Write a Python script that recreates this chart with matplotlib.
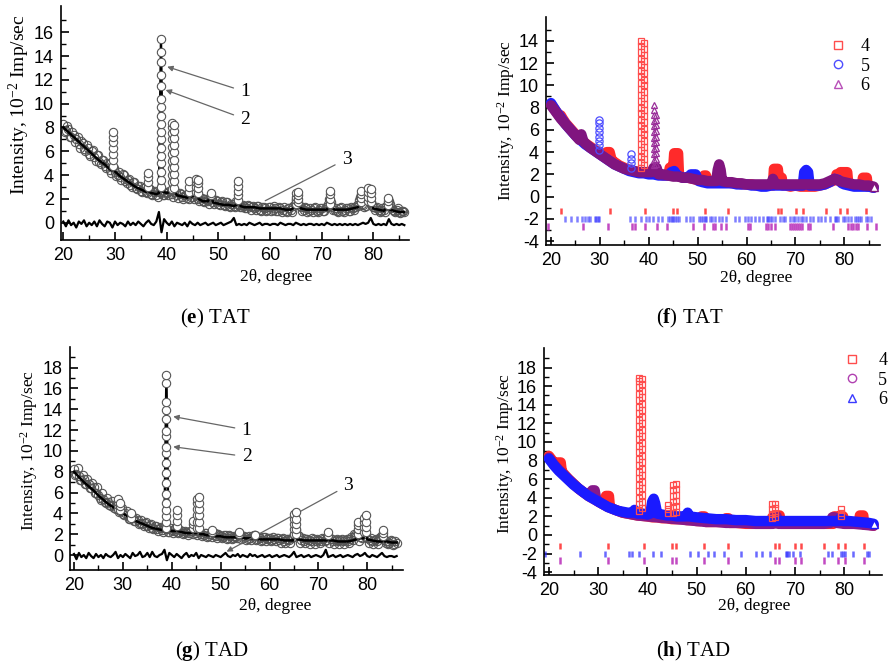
import numpy as np
import matplotlib.pyplot as plt
from matplotlib.lines import Line2D

plt.rcParams.update({
    'font.family': 'serif',
    'font.serif': ['Liberation Serif', 'DejaVu Serif'],
    'mathtext.fontset': 'custom',
    'mathtext.rm': 'Liberation Serif',
    'mathtext.it': 'Liberation Serif:italic',
    'mathtext.bf': 'Liberation Serif:bold',
    'axes.linewidth': 1.2,
    'axes.unicode_minus': False,
})

W, H = 889, 670

# scan grids for measured / difference curves
scan_x = np.arange(20.0, 86.01, 0.5)
scan_mid = np.arange(20.25, 85.76, 0.5)

# === (e) TAT: measured, calculated, difference ===
e_obs = [
    8.3, 7.7, 7.9, 7.2, 7.4, 7.0, 6.6, 6.9, 6.2, 6.5,
    5.8, 6.0, 5.5, 5.7, 5.1, 5.3, 4.8, 5.0, 4.4, 4.7,
    4.3, 4.0, 3.8, 4.1, 3.5, 3.6, 3.2, 3.4, 2.9, 3.1,
    2.7, 2.9, 2.6, 2.8, 2.4, 2.6, 2.3, 2.6, 2.5, 2.3,
    2.5, 2.7, 2.4, 2.6, 2.3, 2.5, 2.2, 2.3, 2.1, 2.4,
    2.2, 2.3, 2.0, 2.1, 1.8, 2.0, 1.8, 2.2, 1.7, 1.9,
    1.6, 1.7, 1.5, 1.7, 1.4, 1.6, 1.4, 1.8, 1.5, 1.3,
    1.4, 1.2, 1.4, 1.3, 1.2, 1.4, 1.1, 1.3, 1.2, 1.1,
    1.3, 1.1, 1.2, 1.0, 1.2, 1.1, 1.0, 1.2, 1.1, 1.4,
    2.0, 1.6, 1.3, 1.1, 1.2, 1.0, 1.1, 1.2, 1.0, 1.1,
    1.2, 1.0, 1.3, 2.0, 1.3, 1.1, 1.0, 1.2, 1.0, 1.1,
    1.2, 1.0, 1.2, 1.3, 1.4, 2.2, 1.5, 1.4, 2.3, 1.7,
    1.3, 1.2, 1.1, 1.0, 1.1, 1.4, 1.8, 1.2, 1.0, 1.1,
    0.9, 1.0, 0.9,
]
e_obs_mid = [
    7.6, 8.1, 7.2, 7.6, 6.8, 7.2, 6.3, 6.7, 6.0, 6.3,
    5.6, 6.1, 5.2, 5.7, 4.9, 5.3, 4.6, 4.9, 4.2, 4.6,
    3.9, 4.3, 3.6, 4.0, 3.3, 3.7, 3.0, 3.4, 2.8, 3.1,
    2.6, 3.0, 2.5, 2.8, 2.3, 2.7, 2.2, 2.6, 2.3, 2.6,
    2.3, 2.7, 2.2, 2.6, 2.1, 2.4, 2.0, 2.3, 2.0, 2.2,
    2.0, 2.3, 1.8, 2.1, 1.7, 1.9, 1.6, 2.0, 1.6, 1.8,
    1.5, 1.8, 1.4, 1.7, 1.3, 1.6, 1.3, 1.6, 1.3, 1.5,
    1.2, 1.5, 1.1, 1.4, 1.1, 1.4, 1.0, 1.3, 1.0, 1.3,
    1.0, 1.4, 1.0, 1.3, 0.9, 1.3, 0.9, 1.2, 0.9, 1.6,
    1.8, 1.4, 1.0, 1.3, 0.9, 1.2, 0.9, 1.3, 0.9, 1.2,
    1.0, 1.3, 1.6, 1.7, 1.1, 1.2, 0.9, 1.3, 0.9, 1.2,
    1.0, 1.3, 1.1, 1.5, 1.9, 1.6, 1.3, 2.0, 2.0, 1.5,
    1.1, 1.3, 0.9, 1.2, 0.9, 1.5, 1.6, 1.1, 0.9, 1.2,
    0.8, 1.0,
]
e_diff = [
    0.1, -0.3, 0.2, -0.2, 0.0, -0.4, 0.1, -0.1, 0.2, -0.3,
    0.0, -0.2, 0.1, -0.3, 0.2, -0.1, -0.3, 0.1, 0.0, -0.4,
    0.1, -0.2, 0.0, -0.1, -0.3, 0.1, -0.2, 0.0, -0.2, 0.1,
    -0.1, -0.3, 0.0, 0.2, -0.1, -0.2, 0.1, 0.9, -0.8, 0.3,
    0.0, -0.2, 0.1, -0.3, 0.0, -0.1, -0.2, 0.0, -0.3, 0.1,
    -0.1, -0.2, 0.0, -0.2, -0.1, 0.0, -0.2, -0.1, 0.0, -0.2,
    -0.1, 0.0, -0.2, -0.1, 0.0, 0.1, 0.4, -0.2, -0.1, -0.2,
    -0.1, -0.2, 0.0, -0.1, -0.2, -0.1, 0.0, -0.2, -0.1, -0.1,
    -0.2, -0.1, -0.1, -0.2, 0.0, -0.1, -0.2, -0.1, -0.1, -0.2,
    0.0, -0.1, -0.2, -0.1, -0.2, -0.1, -0.1, -0.2, -0.1, -0.2,
    -0.1, -0.2, 0.0, -0.1, -0.2, -0.1, -0.2, -0.1, -0.2, -0.1,
    -0.2, -0.1, -0.2, -0.1, -0.2, -0.1, 0.0, -0.1, 0.0, 0.4,
    -0.1, -0.2, -0.1, -0.2, -0.1, -0.2, 0.3, -0.1, -0.2, -0.1,
    -0.2, -0.1, -0.2,
]
e_calc = [
    (20, 8.0), (21, 7.6), (22, 7.2), (23, 6.8), (24, 6.4), (25, 6.0), (26, 5.6),
    (27, 5.2), (28, 4.9), (29, 4.5), (29.4, 4.4), (29.7, 7.4), (30.0, 4.3), (31, 3.9),
    (32, 3.6), (33, 3.3), (34, 3.0), (35, 2.8), (36, 2.6), (36.3, 4.0), (36.6, 2.6),
    (37, 2.5), (38, 2.4), (38.5, 2.5), (38.9, 15.0), (39.3, 2.6), (40, 2.5), (40.7, 2.6),
    (41.2, 8.3), (41.7, 2.5), (42, 2.3), (43, 2.2), (44, 2.1), (44.4, 3.4), (44.8, 2.2),
    (45.4, 2.3), (45.8, 3.6), (46.2, 2.0), (47, 1.8), (48, 1.8), (48.5, 2.4), (49, 1.7),
    (50, 1.6), (51, 1.5), (52, 1.5), (53, 1.4), (53.5, 1.5), (53.9, 3.3), (54.3, 1.4),
    (55, 1.3), (56, 1.3), (57, 1.3), (58, 1.2), (59, 1.2), (60, 1.2), (61, 1.2), (62, 1.2),
    (63, 1.1), (64, 1.1), (64.8, 1.3), (65.2, 2.5), (65.6, 1.4), (66, 1.2), (67, 1.1),
    (68, 1.1), (69, 1.1), (70, 1.1), (71, 1.1), (71.3, 1.3), (71.6, 2.6), (71.9, 1.3),
    (72.5, 1.1), (73, 1.1), (74, 1.1), (75, 1.1), (76, 1.2), (77, 1.3), (77.3, 1.5),
    (77.6, 2.6), (78.2, 1.6), (79.2, 2.8), (79.7, 1.5), (80, 1.2), (81, 1.1), (82, 1.0),
    (82.5, 1.2), (82.8, 2.0), (83.2, 1.1), (84, 1.0), (85, 0.9), (86, 0.9),
]
e_pk_x = [29.7, 36.3, 38.9, 41.0, 41.4, 44.4, 45.6, 46.0, 48.5, 53.9, 65.0, 65.5,
          71.6, 77.6, 79.0, 79.5, 82.8]
e_pk_y = [
    [4.8, 5.3, 5.8, 6.3, 6.8, 7.2, 7.6],
    [3.0, 3.4, 3.8, 4.2],
    [3.0, 3.6, 4.3, 5.0, 5.6, 6.3, 7.0, 7.6, 8.3, 9.0, 9.7, 10.4, 11.5, 12.4, 13.5, 14.3, 15.4],
    [2.8, 3.4, 4.0, 4.6, 5.2, 5.8, 6.4, 7.0, 7.5, 8.0, 8.4],
    [2.9, 3.5, 4.1, 4.7, 5.3, 5.9, 6.5, 7.1, 7.7, 8.2],
    [2.6, 3.0, 3.5],
    [2.6, 3.0, 3.4, 3.7],
    [2.5, 2.9, 3.3, 3.6],
    [2.3, 2.5],
    [1.9, 2.3, 2.7, 3.1, 3.5],
    [1.6, 1.9, 2.2, 2.5],
    [1.7, 2.0, 2.3, 2.6],
    [1.6, 2.0, 2.4, 2.7],
    [1.7, 2.1, 2.4, 2.7],
    [1.8, 2.2, 2.6, 2.9],
    [1.7, 2.1, 2.5, 2.8],
    [1.5, 1.8, 2.1],
]

# === (g) TAD: measured, calculated, difference ===
g_obs = [
    8.3, 7.8, 7.6, 7.2, 7.3, 6.8, 6.8, 6.4, 6.5, 6.0,
    5.8, 5.3, 5.4, 5.0, 5.1, 4.7, 4.8, 4.4, 4.5, 4.2,
    3.9, 4.0, 3.7, 3.5, 3.6, 3.3, 3.4, 3.1, 3.0, 3.1,
    2.8, 2.9, 2.6, 2.8, 2.5, 2.6, 2.4, 2.6, 2.5, 2.2,
    2.4, 2.3, 2.5, 2.2, 2.3, 2.1, 2.2, 2.1, 2.3, 2.4,
    2.1, 2.3, 2.0, 1.9, 2.1, 1.8, 2.0, 1.9, 1.8, 2.0,
    1.8, 1.7, 1.9, 1.6, 1.8, 1.6, 1.7, 1.9, 2.0, 1.6,
    1.7, 1.5, 1.6, 1.8, 1.9, 1.5, 1.6, 1.4, 1.7, 1.5,
    1.6, 1.4, 1.5, 1.6, 1.4, 1.5, 1.3, 1.5, 1.4, 1.6,
    2.0, 2.4, 1.8, 1.4, 1.3, 1.5, 1.4, 1.3, 1.5, 1.3,
    1.4, 1.3, 1.5, 1.4, 1.9, 1.5, 1.3, 1.4, 1.3, 1.4,
    1.3, 1.4, 1.3, 1.5, 1.4, 1.9, 2.2, 1.7, 1.6, 2.4,
    1.6, 1.4, 1.3, 1.4, 1.3, 1.7, 1.9, 1.4, 1.3, 1.2,
    1.3, 1.1, 1.2,
]
g_obs_mid = [
    7.7, 8.4, 7.2, 7.7, 6.8, 7.3, 6.4, 6.9, 6.0, 6.5,
    5.5, 6.0, 5.1, 5.5, 4.8, 5.2, 4.5, 4.9, 4.1, 4.5,
    3.8, 4.2, 3.5, 3.9, 3.3, 3.6, 3.0, 3.4, 2.8, 3.2,
    2.6, 3.0, 2.5, 2.8, 2.3, 2.7, 2.2, 2.6, 2.2, 2.6,
    2.1, 2.6, 2.1, 2.4, 2.0, 2.3, 1.9, 2.3, 2.0, 2.3,
    1.9, 2.2, 1.8, 2.1, 1.7, 2.0, 1.7, 2.1, 1.6, 1.9,
    1.6, 1.9, 1.5, 1.9, 1.5, 1.8, 1.6, 2.0, 1.5, 1.8,
    1.4, 1.8, 1.4, 1.9, 1.4, 1.7, 1.3, 1.7, 1.3, 1.6,
    1.3, 1.7, 1.3, 1.6, 1.2, 1.6, 1.2, 1.5, 1.2, 1.7,
    2.2, 1.9, 1.2, 1.6, 1.2, 1.5, 1.1, 1.6, 1.1, 1.5,
    1.2, 1.6, 1.3, 1.7, 1.2, 1.5, 1.1, 1.5, 1.1, 1.5,
    1.1, 1.5, 1.2, 1.7, 2.0, 1.8, 1.3, 2.1, 2.0, 1.7,
    1.2, 1.6, 1.1, 1.5, 1.1, 1.6, 1.6, 1.2, 1.1, 1.4,
    1.0, 1.3,
]
g_diff = [
    0.1, -0.4, 0.2, -0.2, 0.0, -0.3, 0.2, -0.1, -0.3, 0.1,
    -0.2, 0.0, -0.3, 0.1, -0.1, -0.2, 0.0, 0.3, -0.3, 0.0,
    -0.2, 0.1, -0.1, -0.3, 0.2, -0.1, 0.0, 0.3, -0.2, -0.1,
    0.2, -0.2, 0.3, -0.1, -0.2, 0.0, 0.1, 0.5, -0.5, 0.2,
    0.0, -0.2, 0.1, -0.1, -0.3, 0.0, 0.2, -0.2, 0.0, -0.1,
    0.2, -0.3, 0.0, -0.1, -0.2, 0.0, -0.1, -0.2, 0.0, -0.1,
    -0.2, 0.0, 0.2, -0.1, -0.2, 0.0, -0.1, 0.1, -0.2, 0.0,
    -0.1, -0.2, 0.1, -0.1, 0.0, -0.2, -0.1, 0.0, -0.2, -0.1,
    0.0, -0.2, -0.1, 0.0, -0.2, -0.1, 0.0, -0.1, -0.2, 0.0,
    0.3, -0.2, -0.1, 0.0, -0.2, -0.1, 0.0, -0.2, -0.1, 0.0,
    -0.1, -0.2, 0.0, 0.5, -0.2, -0.1, 0.0, -0.2, -0.1, 0.0,
    -0.2, -0.1, 0.0, -0.1, -0.2, 0.0, 0.1, -0.1, 0.0, 0.2,
    -0.1, -0.2, 0.0, -0.1, -0.2, 0.0, 0.2, -0.1, -0.2, -0.1,
    -0.1, -0.2, -0.1,
]
g_calc = [
    (20, 8.0), (21, 7.5), (22, 7.0), (23, 6.6), (24, 6.2), (25, 5.7), (26, 5.3),
    (27, 4.9), (28, 4.6), (28.8, 4.3), (29.2, 5.3), (29.6, 4.2), (30, 4.0), (31, 3.7),
    (31.4, 3.6), (31.7, 3.9), (32.0, 3.4), (33, 3.2), (34, 3.0), (35, 2.8), (36, 2.6),
    (37, 2.5), (38, 2.4), (38.5, 2.4), (38.9, 17.0), (39.3, 2.4), (40, 2.3), (40.7, 2.3),
    (41.0, 4.1), (41.3, 2.3), (42, 2.2), (43, 2.1), (44.0, 2.1), (44.3, 3.1), (44.7, 2.1),
    (45.0, 2.1), (45.4, 5.5), (45.8, 2.0), (46.5, 2.0), (47, 1.9), (48, 1.9), (48.2, 2.3),
    (48.5, 1.9), (49, 1.8), (50, 1.8), (51, 1.7), (52, 1.7), (53, 1.7), (53.5, 1.7),
    (53.8, 2.1), (54.1, 1.7), (55, 1.6), (56, 1.6), (57, 1.6), (58, 1.5), (59, 1.5),
    (60, 1.5), (61, 1.5), (62, 1.5), (63, 1.4), (64, 1.4), (64.8, 1.4), (65.2, 4.0),
    (65.7, 1.5), (66, 1.5), (67, 1.4), (68, 1.4), (69, 1.4), (70, 1.4), (71, 1.4),
    (71.7, 1.4), (72.0, 2.1), (72.3, 1.4), (73, 1.4), (74, 1.3), (75, 1.3), (76, 1.3),
    (77, 1.4), (77.7, 1.5), (78.0, 3.1), (78.4, 1.6), (79.2, 1.6), (79.6, 3.7), (80.0, 1.5),
    (81, 1.4), (82, 1.3), (83.0, 1.3), (83.3, 2.3), (83.6, 1.3), (84, 1.3), (85, 1.2),
    (86, 1.2),
]
g_pk_x = [29.0, 29.4, 31.7, 38.9, 41.0, 44.3, 45.2, 45.6, 48.2, 53.8, 57.0, 65.0, 65.5,
          72.0, 78.0, 79.4, 79.8, 83.3]
g_pk_y = [
    [4.4, 4.8, 5.1, 5.4],
    [4.3, 4.7, 5.0],
    [3.6, 4.0],
    [2.6, 3.2, 3.7, 4.3, 5.0, 5.9, 6.9, 7.9, 8.8, 9.8, 10.4, 11.4, 11.9, 13.1, 13.9, 14.7, 16.5, 17.3],
    [2.8, 3.3, 3.8, 4.3],
    [2.6, 3.0, 3.3],
    [2.6, 3.2, 3.8, 4.4, 5.0, 5.4],
    [2.6, 3.2, 3.8, 4.4, 5.0, 5.6],
    [2.2, 2.4],
    [2.0, 2.2],
    [1.9],
    [2.0, 2.5, 3.0, 3.5, 3.9],
    [2.0, 2.5, 3.0, 3.5, 4.1],
    [1.9, 2.2],
    [2.0, 2.5, 2.9, 3.2],
    [2.2, 2.7, 3.2, 3.6],
    [2.2, 2.7, 3.2, 3.8],
    [1.8, 2.1, 2.4],
]

# === (f) TAT: phase patterns 4, 5, 6 ===
f_phase4 = [
    (20, 8.3), (21, 7.7), (21.6, 7.3), (22.0, 7.3), (22.4, 7.0), (23, 6.6), (24, 6.1),
    (25, 5.6), (26, 5.2), (27, 4.8), (28, 4.5), (29, 4.2), (30, 3.9), (31, 3.6),
    (31.4, 4.0), (32.0, 4.0), (32.4, 3.3), (33, 3.1), (34, 2.8), (35, 2.6), (36, 2.4),
    (37, 2.3), (38, 2.2), (39.5, 2.2), (40, 2.1), (41, 2.1), (42, 2.0), (43, 1.9),
    (44, 1.9), (44.3, 2.6), (45.0, 2.6), (45.2, 3.9), (46.0, 3.9), (46.2, 1.8), (47, 1.7),
    (48, 1.7), (49, 1.6), (50, 1.5), (51.0, 1.5), (51.3, 1.9), (51.7, 1.9), (52, 1.4),
    (53, 1.4), (54, 1.3), (55, 1.3), (56, 1.3), (57, 1.2), (58, 1.2), (59, 1.1), (60, 1.1),
    (61, 1.1), (62, 1.0), (63, 1.0), (64, 1.0), (65.4, 1.0), (65.6, 2.5), (66.4, 2.5),
    (66.6, 1.7), (67.2, 1.7), (67.4, 1.0), (68, 1.0), (69, 0.9), (70, 1.0), (71, 0.9),
    (72, 0.9), (73, 0.9), (74, 0.9), (75, 1.0), (76, 1.1), (77, 1.3), (78.2, 1.5),
    (78.4, 2.0), (79.0, 2.0), (79.2, 2.2), (80.6, 2.2), (80.8, 1.2), (82, 1.0), (83, 1.0),
    (83.6, 1.0), (83.8, 1.7), (84.6, 1.7), (84.8, 0.9), (85.5, 0.9), (86, 0.8),
]
f_phase5 = [
    (20, 8.4), (21, 7.7), (22, 7.1), (23, 6.5), (24, 6.0), (25, 5.5), (26, 5.1), (27, 4.7),
    (28, 4.4), (29, 4.1), (30, 3.8), (31, 3.5), (32, 3.2), (33, 2.9), (34, 2.7), (35, 2.5),
    (36, 2.3), (37, 2.2), (38, 2.1), (39, 2.1), (40, 2.0), (41, 2.0), (42, 1.9), (43, 1.9),
    (44, 1.9), (44.6, 2.2), (45.2, 2.3), (45.8, 1.9), (47, 1.7), (48, 1.7), (48.6, 2.0),
    (49.6, 2.0), (50.2, 1.4), (51, 1.3), (52, 1.2), (53, 1.2), (54, 1.2), (55, 1.2),
    (56, 1.2), (57, 1.2), (58, 1.1), (59, 1.1), (60, 1.1), (61, 1.0), (62, 1.0), (63, 0.9),
    (64, 0.9), (65, 1.0), (66, 1.0), (67, 1.0), (68, 1.0), (69, 1.0), (70, 1.0),
    (71.5, 1.0), (71.8, 2.2), (72.2, 2.4), (72.6, 2.2), (72.9, 1.0), (74, 1.0), (75, 1.0),
    (76, 1.1), (77, 1.3), (78, 1.6), (78.8, 1.5), (79.5, 1.2), (80, 1.1), (81, 1.0),
    (82, 0.9), (83, 0.9), (84, 0.9), (85, 0.9), (86, 0.8),
]
f_phase6 = [
    (20, 8.2), (21, 7.6), (22, 7.0), (23, 6.5), (24, 6.0), (25, 5.5), (25.8, 5.1),
    (26.2, 5.6), (26.6, 5.0), (27, 4.8), (28, 4.4), (29, 4.1), (30, 3.8), (31, 3.5),
    (32, 3.2), (33, 2.9), (34, 2.7), (35, 2.5), (36, 2.4), (37, 2.3), (38, 2.2), (39, 2.2),
    (40, 2.2), (40.6, 2.2), (41.0, 2.6), (41.6, 2.6), (42, 2.0), (43, 2.0), (44, 1.9),
    (45, 1.8), (46, 1.8), (47, 1.7), (48, 1.7), (49, 1.6), (50, 1.5), (51, 1.5), (52, 1.4),
    (53, 1.4), (53.8, 1.4), (54.1, 2.4), (54.4, 2.9), (54.7, 2.4), (55.0, 1.4), (56, 1.3),
    (57, 1.3), (58, 1.2), (59, 1.2), (60, 1.1), (61, 1.1), (62, 1.1), (63, 1.1), (64, 1.1),
    (65.0, 1.1), (65.4, 1.6), (65.8, 1.2), (66, 1.1), (67, 1.1), (68, 1.1), (69, 1.1),
    (70, 1.1), (71, 1.1), (72, 1.1), (73, 1.1), (74, 1.1), (75, 1.1), (76, 1.2), (77, 1.4),
    (78, 1.6), (79, 1.4), (80, 1.3), (81, 1.2), (82, 1.1), (83, 1.1), (84, 1.0), (85, 1.0),
    (86, 0.9),
]
f_col4_x = [38.5, 39.1]
f_col4_y = [
    [2.6, 3.1, 3.6, 4.2, 4.7, 5.3, 5.8, 6.4, 6.9, 7.5, 8.0, 8.6, 9.1, 9.7, 10.2, 10.8,
     11.3, 11.9, 12.4, 13.0, 13.5, 14.0],
    [2.8, 3.4, 3.9, 4.5, 5.0, 5.6, 6.1, 6.7, 7.2, 7.8, 8.3, 8.9, 9.4, 10.0, 10.5, 11.1,
     11.6, 12.2, 12.7, 13.3, 13.8],
]
f_col5_x = [29.8, 36.4]
f_col5_y = [
    [4.2, 4.6, 5.0, 5.4, 5.8, 6.2, 6.6, 6.9],
    [2.6, 3.0, 3.4, 3.8],
]
f_col6_x = [41.1, 41.5]
f_col6_y = [
    [2.8, 3.3, 3.8, 4.3, 4.8, 5.3, 5.8, 6.3, 6.8, 7.3, 7.8, 8.2],
    [2.9, 3.4, 3.9, 4.4, 4.9, 5.4, 5.9, 6.4, 6.9, 7.3],
]
f_ticks4 = [22.0, 32.1, 39.2, 45.0, 45.8, 51.5, 56.3, 66.4, 67.1, 70.1, 71.6, 76.2,
            79.2, 80.5, 84.5]
f_ticks5 = [22.9, 24.1, 25.3, 26.3, 27.0, 27.5, 28.0, 29.0, 29.3, 29.6, 29.9, 36.2,
            37.2, 38.4, 39.4, 40.1, 40.8, 41.8, 42.7, 44.0, 44.3, 44.7, 45.0, 45.3, 45.8,
            46.2, 47.6, 48.4, 49.0, 50.3, 50.7, 51.1, 51.5, 51.8, 52.5, 52.9, 53.6, 54.3,
            55.0, 55.9, 57.6, 58.5, 59.6, 60.3, 61.0, 61.7, 62.6, 63.4, 64.1, 64.4, 64.7,
            65.2, 65.8, 66.8, 67.4, 67.8, 68.8, 69.5, 70.0, 70.5, 71.1, 71.6, 72.2, 72.9,
            73.6, 74.6, 75.3, 76.0, 77.0, 78.0, 78.4, 78.7, 79.7, 80.2, 80.7, 81.4, 82.1,
            82.6, 83.0, 83.4, 84.4, 84.8, 85.4]
f_ticks6 = [19.4, 26.5, 31.6, 36.5, 37.2, 39.2, 41.6, 43.7, 49.1, 51.2, 53.1, 53.5,
            54.8, 55.8, 60.2, 60.7, 64.0, 64.4, 65.1, 65.8, 68.9, 69.4, 69.8, 70.2, 70.6,
            71.0, 71.3, 72.6, 73.0, 77.6, 80.8, 81.3, 81.8, 82.3, 82.8, 84.6, 86.5]

# === (h) TAD: phase patterns 4, 5, 6 ===
h_phase4 = [
    (20, 8.5), (21, 7.8), (21.6, 7.4), (21.8, 7.8), (22.4, 7.8), (22.6, 6.9), (23, 6.6),
    (24, 6.0), (25, 5.5), (26, 5.0), (27, 4.6), (28, 4.2), (29, 3.9), (30, 3.6), (31, 3.3),
    (31.4, 3.2), (31.6, 4.2), (32.2, 4.2), (32.4, 3.0), (33, 2.8), (34, 2.6), (35, 2.4),
    (36, 2.3), (37, 2.2), (38, 2.1), (40, 2.0), (41, 1.9), (42, 1.9), (43, 1.8), (44, 1.8),
    (45, 1.7), (46, 1.7), (47, 1.7), (48, 1.6), (49, 1.6), (50, 1.5), (50.8, 1.5),
    (51.0, 2.0), (51.6, 2.0), (51.8, 1.4), (53, 1.4), (55, 1.4), (55.8, 1.4), (56.0, 1.8),
    (56.5, 1.8), (56.7, 1.3), (58, 1.3), (60, 1.2), (62, 1.2), (64, 1.2), (65.2, 1.2),
    (65.4, 1.9), (66.0, 1.9), (66.2, 2.1), (66.9, 2.1), (67.1, 1.2), (68, 1.2), (70, 1.2),
    (72, 1.2), (74, 1.2), (76, 1.2), (77.8, 1.2), (78.0, 2.0), (78.6, 2.0), (78.8, 1.5),
    (79.1, 2.0), (79.8, 2.0), (80.1, 1.2), (82, 1.2), (83.0, 1.2), (83.2, 2.1), (83.9, 2.1),
    (84.1, 1.1), (85, 1.1), (86, 1.0),
]
h_phase5 = [
    (20, 8.3), (21, 7.6), (22, 7.0), (23, 6.5), (24, 6.0), (25, 5.5), (26, 5.0), (27, 4.6),
    (28, 4.3), (28.5, 4.1), (28.8, 4.8), (29.3, 4.8), (29.6, 3.9), (30, 3.6), (31, 3.3),
    (32, 3.0), (33, 2.8), (34, 2.6), (35, 2.4), (36, 2.3), (37, 2.2), (38, 2.1), (40, 2.0),
    (42, 1.9), (44, 1.8), (46, 1.7), (48, 1.6), (50, 1.5), (52, 1.4), (54, 1.4), (56, 1.3),
    (58, 1.3), (60, 1.3), (62, 1.2), (64, 1.2), (65.6, 1.2), (65.9, 2.0), (66.3, 2.0),
    (66.6, 1.2), (68, 1.2), (70, 1.2), (72, 1.2), (74, 1.2), (76, 1.2), (77.2, 1.3),
    (77.6, 1.9), (78.1, 1.9), (78.5, 1.3), (80, 1.2), (82, 1.2), (84, 1.1), (86, 1.0),
]
h_phase6 = [
    (20, 8.2), (21, 7.5), (22, 6.9), (23, 6.4), (24, 5.9), (25, 5.4), (26, 5.0), (27, 4.6),
    (28, 4.2), (29, 3.9), (30, 3.6), (31, 3.3), (32, 3.0), (33, 2.8), (34, 2.6), (35, 2.5),
    (36, 2.4), (37, 2.4), (37.4, 2.7), (37.8, 2.4), (38, 2.3), (39, 2.3), (40, 2.2),
    (40.6, 2.3), (41.0, 3.6), (41.3, 3.9), (41.6, 3.4), (42.0, 2.3), (43, 2.2), (44, 2.1),
    (45, 2.1), (46, 2.0), (47, 2.0), (47.9, 2.0), (48.2, 2.4), (48.5, 2.0), (50, 1.9),
    (52, 1.8), (54, 1.7), (56, 1.7), (58, 1.6), (60, 1.6), (62, 1.5), (64, 1.5), (66, 1.5),
    (68, 1.5), (70, 1.5), (72, 1.5), (74, 1.5), (76, 1.5), (78, 1.5), (79.0, 1.5),
    (79.4, 1.9), (79.8, 1.5), (81, 1.5), (83, 1.4), (85, 1.3), (86, 1.2),
]
h_col4_x = [38.4, 39.0, 44.3, 45.2, 45.8, 65.3, 65.9, 79.4]
h_col4_y = [
    [2.6, 3.3, 4.0, 4.7, 5.4, 6.1, 6.8, 7.5, 8.2, 8.9, 9.6, 10.3, 11.0, 11.7, 12.4, 13.1,
     13.8, 14.5, 15.2, 15.9, 16.5, 16.9],
    [2.9, 3.6, 4.3, 5.0, 5.7, 6.4, 7.1, 7.8, 8.5, 9.2, 9.9, 10.6, 11.3, 12.0, 12.7, 13.4,
     14.1, 14.8, 15.5, 16.2, 16.8],
    [2.4, 2.8, 3.2],
    [2.4, 3.0, 3.6, 4.2, 4.8, 5.4],
    [2.5, 3.1, 3.7, 4.3, 4.9, 5.5],
    [1.8, 2.3, 2.8, 3.3],
    [1.9, 2.4, 2.9, 3.3],
    [2.0, 2.4, 2.8],
]
h_ticks4 = [22.2, 32.1, 39.3, 45.0, 45.9, 51.5, 56.3, 66.0, 66.8, 70.0, 71.3, 75.9,
            78.8, 80.1, 84.0]
h_ticks5 = [22.2, 32.1, 39.3, 45.0, 45.9, 51.5, 56.3, 66.0, 66.8, 70.0, 71.3, 75.9,
            78.8, 80.1, 84.0]
h_ticks6 = [19.3, 26.3, 31.5, 36.3, 36.8, 38.4, 41.2, 42.8, 48.6, 50.2, 52.4, 53.6,
            55.5, 59.1, 62.1, 63.4, 64.9, 68.1, 68.4, 68.7, 69.6, 71.0, 76.7, 77.6, 79.4,
            79.8, 80.2, 81.9, 84.7, 85.1]


def fig_pos(px, py):
    return px / W, 1 - py / H


def axes_at(fig, left, top, right, bottom):
    return fig.add_axes([left / W, 1 - bottom / H, (right - left) / W, (bottom - top) / H])


def style_axes(ax, xlim, ylim, ylo, yhi):
    ax.set_xlim(*xlim)
    ax.set_ylim(*ylim)
    for s in ('top', 'right'):
        ax.spines[s].set_visible(False)
    ax.set_xticks(np.arange(20, 81, 10))
    ax.set_xticks(np.arange(25, 86, 10), minor=True)
    ax.set_yticks(np.arange(ylo, yhi + 1, 2))
    ax.set_yticks(np.arange(ylo + 1, yhi + 2, 2), minor=True)
    ax.tick_params(which='major', direction='in', length=6, width=1.2, pad=5,
                   labelsize=13, labelfontfamily='Liberation Sans')
    ax.tick_params(which='minor', direction='in', length=3.5, width=1.0)


def measured_panel(ax, obs, obs_mid, diff, calc, pk_x, pk_y):
    for xs, ys in ((scan_x, obs), (scan_mid, obs_mid)):
        ax.plot(xs, ys, ls='none', marker='o', ms=6, mfc='none', mec='#555555',
                mew=0.8, zorder=2)
    cx, cy = zip(*calc)
    ax.plot(cx, cy, color='black', lw=1.8, zorder=3)
    for x, ys in zip(pk_x, pk_y):
        ax.plot([x] * len(ys), ys, ls='none', marker='o', ms=6, mfc='white',
                mec='#555555', mew=0.8, zorder=4)
    ax.plot(scan_x, diff, color='black', lw=1.6, zorder=3)


def phase_band(ax, pts, color, z, end_marker=None):
    x, y = zip(*pts)
    ax.plot(x, y, color=color, lw=7.5, solid_capstyle='round', solid_joinstyle='round',
            zorder=z)
    if end_marker:
        ax.plot(x[-1:], y[-1:], ls='none', marker=end_marker, ms=6, mfc='white',
                mec=color, mew=1.0, zorder=z + 5)


def phase_columns(ax, xs, stacks, marker, color, ms):
    for x, ys in zip(xs, stacks):
        ax.plot([x] * len(ys), ys, ls='none', marker=marker, ms=ms, mfc='none',
                mec=color, mew=0.9, zorder=8)


def bragg_ticks(ax, xs, lo, hi, color, alpha=1.0):
    ax.vlines(xs, lo, hi, colors=color, lw=1.8, alpha=alpha, zorder=2)


def phase_legend(ax, fig, entries, left, top, pad):
    handles = [Line2D([], [], ls='none', marker=m, ms=6, mfc='none', mec=c, mew=1.0)
               for m, c in entries]
    ax.legend(handles, ['4', '5', '6'], loc='upper left',
              bbox_to_anchor=fig_pos(left, top), bbox_transform=fig.transFigure,
              frameon=False, fontsize=13, handlelength=1.0, handletextpad=pad,
              labelspacing=0.15, borderpad=0, borderaxespad=0)


fig = plt.figure(figsize=(W / 100, H / 100), dpi=100)

# (e)
ax_e = axes_at(fig, 61, 6, 409, 240)
measured_panel(ax_e, e_obs, e_obs_mid, e_diff, e_calc, e_pk_x, e_pk_y)
style_axes(ax_e, (19.55, 86.9), (-1.45, 18.2), 0, 16)
arrow = dict(arrowstyle='-|>', color='#666666', lw=0.9, mutation_scale=8, shrinkA=3, shrinkB=0)
ax_e.annotate('1', xy=(40.1, 13.1), xytext=(55.2, 11.0), fontsize=14, ha='center',
              va='center', arrowprops=arrow)
ax_e.annotate('2', xy=(39.8, 11.15), xytext=(55.2, 8.7), fontsize=14, ha='center',
              va='center', arrowprops=arrow)
ax_e.annotate('3', xy=(58.6, 1.74), xytext=(74.8, 5.35), fontsize=14, ha='center',
              va='center', arrowprops=dict(arrowstyle='-', color='#666666', lw=0.9, shrinkA=3))

# (f)
ax_f = axes_at(fig, 546, 17, 880, 245)
phase_band(ax_f, f_phase4, '#ff2a2a', 3)
phase_band(ax_f, f_phase5, '#1f1fff', 4)
phase_band(ax_f, f_phase6, '#80157f', 5, end_marker='^')
phase_columns(ax_f, f_col4_x, f_col4_y, 's', '#ff4d4d', 4.8)
phase_columns(ax_f, f_col5_x, f_col5_y, 'o', '#4d4dff', 5.2)
phase_columns(ax_f, f_col6_x, f_col6_y, '^', '#9a2f9a', 4.2)
bragg_ticks(ax_f, f_ticks4, -1.0, -1.6, '#ff4a4a')
bragg_ticks(ax_f, f_ticks5, -1.7, -2.3, '#2a2aff', alpha=0.6)
bragg_ticks(ax_f, f_ticks6, -2.4, -3.0, '#c24ac2')
style_axes(ax_f, (18.98, 87.3), (-4.34, 16.13), -4, 14)
phase_legend(ax_f, fig, [('s', '#ff4d4d'), ('o', '#4d4dff'), ('^', '#b84fb8')], 829, 38, 0.75)

# (g)
ax_g = axes_at(fig, 70, 347, 403, 570)
measured_panel(ax_g, g_obs, g_obs_mid, g_diff, g_calc, g_pk_x, g_pk_y)
style_axes(ax_g, (19.18, 87.3), (-1.44, 19.98), 0, 18)
ax_g.annotate('1', xy=(40.3, 13.3), xytext=(55.3, 12.0), fontsize=14, ha='center',
              va='center', arrowprops=arrow)
ax_g.annotate('2', xy=(40.3, 10.4), xytext=(55.3, 9.45), fontsize=14, ha='center',
              va='center', arrowprops=arrow)
ax_g.annotate('3', xy=(51.2, 0.32), xytext=(76.1, 6.7), fontsize=14, ha='center',
              va='center', arrowprops=arrow)

# (h)
ax_h = axes_at(fig, 544, 348, 882, 575)
phase_band(ax_h, h_phase4, '#ff2a2a', 3)
phase_band(ax_h, h_phase5, '#86198a', 4)
phase_band(ax_h, h_phase6, '#1a1aff', 5, end_marker='^')
phase_columns(ax_h, h_col4_x, h_col4_y, 's', '#ff4d4d', 4.8)
bragg_ticks(ax_h, h_ticks4, -0.85, -1.55, '#ff4a4a')
bragg_ticks(ax_h, h_ticks6, -1.7, -2.4, '#2a2aff', alpha=0.7)
bragg_ticks(ax_h, h_ticks5, -2.4, -3.1, '#c24ac2')
style_axes(ax_h, (19.0, 87.7), (-4.3, 20.1), -4, 18)
phase_legend(ax_h, fig, [('s', '#ff4d4d'), ('o', '#b040b0'), ('^', '#3a3aff')], 843, 352, 0.95)

# axis titles
ylab = 'Intensity, 10$^{-2}$ Imp/sec'
fig.text(*fig_pos(19, 105), ylab, rotation=90, ha='center', va='center', fontsize=14)
fig.text(*fig_pos(506, 120), ylab, rotation=90, ha='center', va='center', fontsize=12.5)
fig.text(*fig_pos(29, 450), ylab, rotation=90, ha='center', va='center', fontsize=12.5)
fig.text(*fig_pos(505, 453), ylab, rotation=90, ha='center', va='center', fontsize=12.5)
xlab = '2θ, degree'
for px, py in [(276, 277), (756, 278), (275, 606), (754, 606)]:
    fig.text(*fig_pos(px, py), xlab, ha='center', va='center', fontsize=12.5)

# panel captions
fig.text(*fig_pos(215, 318), r'($\mathbf{e}$) TAT', ha='center', va='center', fontsize=15)
fig.text(*fig_pos(690, 318), r'($\mathbf{f}$) TAT', ha='center', va='center', fontsize=15)
fig.text(*fig_pos(212, 651), r'($\mathbf{g}$) TAD', ha='center', va='center', fontsize=15)
fig.text(*fig_pos(693, 651), r'($\mathbf{h}$) TAD', ha='center', va='center', fontsize=15)

fig.savefig('out.png', dpi=100)
